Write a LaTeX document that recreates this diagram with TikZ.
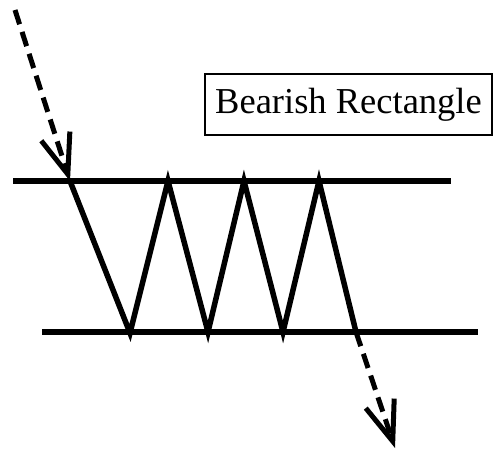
\documentclass[tikz,border=0pt]{standalone}
\usepackage{fontspec}
\setmainfont{Liberation Serif}
\usetikzlibrary{arrows.meta}
\begin{document}
\begin{tikzpicture}[x=1pt,y=-1pt,
  solidline/.style={line width=5.5pt,line cap=butt,line join=miter},
  dashline/.style={line width=5pt,dash pattern=on 15pt off 8pt,
    -{Straight Barb[length=40pt,width=30pt,line width=5pt]}},
  label box/.style={draw,line width=1.5pt,minimum width=287pt,minimum height=61pt,inner sep=0pt,font=\fontsize{36.5}{40}\selectfont}]
\useasboundingbox (0,0) rectangle (496,452);
% support / resistance lines
\coordinate (tl) at (13,181);
\coordinate (tr) at (451,181);
\coordinate (bl) at (42,332);
\coordinate (br) at (478,332);
\draw[solidline] (tl) -- (tr);
\draw[solidline] (bl) -- (br);
% zigzag vertices
\coordinate (t1) at (70,181);
\coordinate (b1) at (130,333);
\coordinate (t2) at (168,181);
\coordinate (b2) at (208,332);
\coordinate (t3) at (244,181);
\coordinate (b3) at (283,332);
\coordinate (t4) at (319,181);
\coordinate (b4) at (356,332);
\draw[solidline] (t1) -- (b1) -- (t2) -- (b2) -- (t3) -- (b3) -- (t4) -- (b4);
% entry and exit arrows
\coordinate (s0) at (15,10);
\draw[dashline] (s0) -- (t1);
\coordinate (e0) at (395,448);
\draw[dashline] (b4) -- (e0);
% label
\node[label box] (lbl) at (348.5,104.5) {Bearish Rectangle};
\end{tikzpicture}
\end{document}
